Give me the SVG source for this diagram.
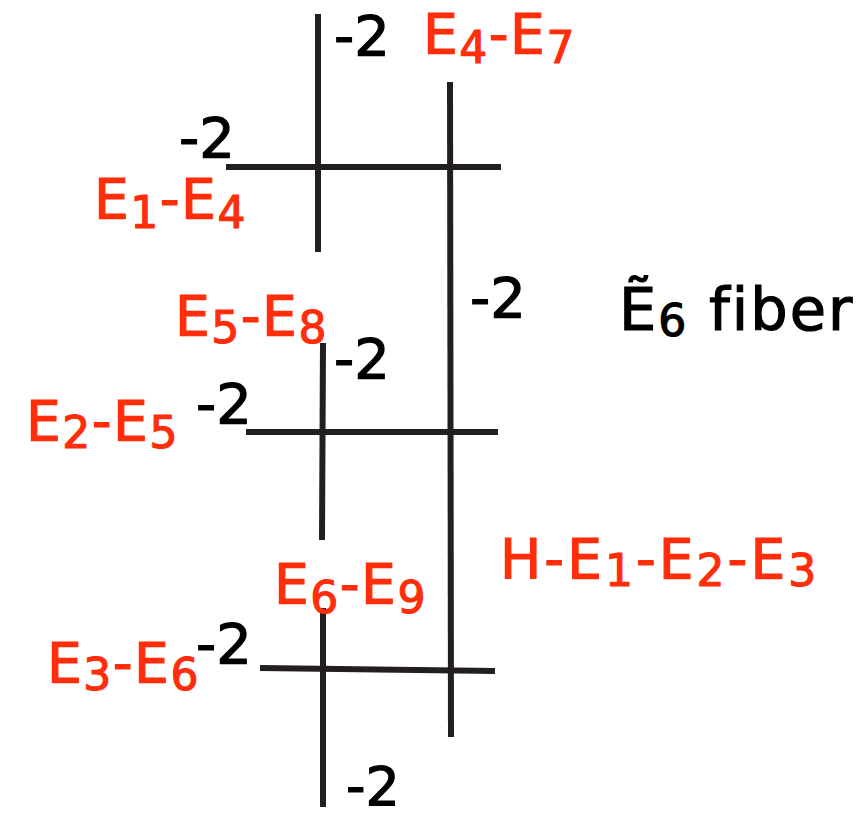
<svg xmlns="http://www.w3.org/2000/svg" width="867" height="820" viewBox="0 0 867 820">
<style>
.c{stroke:#231f20;stroke-width:6;stroke-linecap:butt;fill:none}
.k{font-family:"DejaVu Sans","Open Sans",sans-serif;font-size:56px;fill:#000;stroke:#000;stroke-width:1.2}
.r{font-family:"DejaVu Sans","Open Sans",sans-serif;font-size:55px;fill:#ff2d0a;stroke:#ff2d0a;stroke-width:1.2;letter-spacing:1.5px}
.s{font-size:44px}
</style>
<rect width="867" height="820" fill="#fff"/>
<g id="curve-E4-E7">
<line class="c" x1="318" y1="14" x2="318" y2="252"/>
<text class="k" x="334" y="55">-2</text>
<text class="r" x="423" y="53">E<tspan class="s" dy="10">4</tspan><tspan dy="-10">-E</tspan><tspan class="s" dy="10">7</tspan></text>
</g>
<g id="curve-E1-E4">
<line class="c" x1="226" y1="167" x2="501" y2="167"/>
<text class="k" x="179" y="157">-2</text>
<text class="r" x="94" y="218">E<tspan class="s" dy="10">1</tspan><tspan dy="-10">-E</tspan><tspan class="s" dy="10">4</tspan></text>
</g>
<g id="curve-H-E1-E2-E3">
<line class="c" x1="450" y1="82" x2="451" y2="737"/>
<text class="k" x="470" y="317">-2</text>
<text class="r" x="500" y="578" style="letter-spacing:3px">H-E<tspan class="s" dy="8">1</tspan><tspan dy="-8">-E</tspan><tspan class="s" dy="8">2</tspan><tspan dy="-8">-E</tspan><tspan class="s" dy="8">3</tspan></text>
</g>
<g id="curve-E5-E8">
<line class="c" x1="323" y1="343" x2="322" y2="540"/>
<text class="k" x="334" y="378">-2</text>
<text class="r" x="175" y="335">E<tspan class="s" dy="8">5</tspan><tspan dy="-8">-E</tspan><tspan class="s" dy="8">8</tspan></text>
</g>
<g id="curve-E2-E5">
<line class="c" x1="246" y1="432" x2="498" y2="432"/>
<text class="k" x="196" y="423">-2</text>
<text class="r" x="26" y="440">E<tspan class="s" dy="8">2</tspan><tspan dy="-8">-E</tspan><tspan class="s" dy="8">5</tspan></text>
</g>
<g id="curve-E3-E6">
<line class="c" x1="260" y1="668" x2="495" y2="671"/>
<text class="k" x="196" y="663">-2</text>
<text class="r" x="47" y="682">E<tspan class="s" dy="8">3</tspan><tspan dy="-8">-E</tspan><tspan class="s" dy="8">6</tspan></text>
</g>
<g id="curve-E6-E9">
<line class="c" x1="323" y1="608" x2="323" y2="807"/>
<text class="k" x="346" y="805" style="font-size:54px">-2</text>
<text class="r" x="274" y="603">E<tspan class="s" dy="10">6</tspan><tspan dy="-10">-E</tspan><tspan class="s" dy="10">9</tspan></text>
</g>
<g id="title">
<text class="k" x="619" y="330" style="font-size:59px;letter-spacing:2px">Ẽ<tspan class="s" dy="6">6</tspan><tspan dy="-6"> fiber</tspan></text>
</g>
</svg>
